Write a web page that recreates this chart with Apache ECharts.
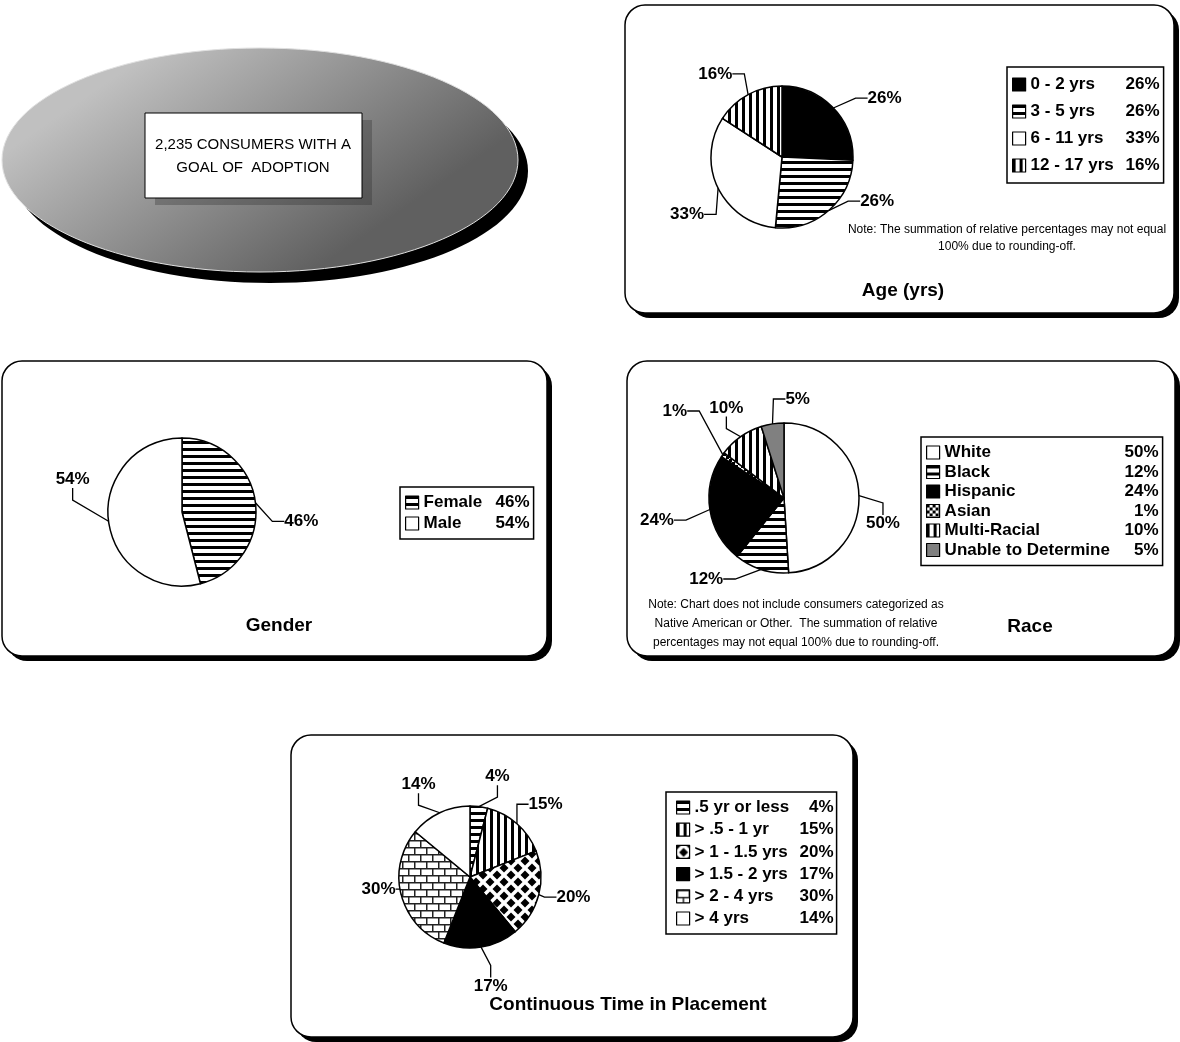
<!DOCTYPE html>
<html><head><meta charset="utf-8">
<script src="https://cdn.jsdelivr.net/npm/echarts@6/dist/echarts.min.js"></script>
<style>html,body{margin:0;padding:0;background:#fff}#c{width:1180px;height:1042px}</style>
</head><body><div id="c"></div>
<script>
// ---- data ----
const ageCats = ['0 - 2 yrs', '3 - 5 yrs', '6 - 11 yrs', '12 - 17 yrs'];
const ageVals = [26, 26, 33, 16];
const genderCats = ['Female', 'Male'];
const genderVals = [46, 54];
const raceCats = ['White', 'Black', 'Hispanic', 'Asian', 'Multi-Racial', 'Unable to Determine'];
const raceVals = [50, 12, 24, 1, 10, 5];
const timeCats = ['.5 yr or less', '> .5 - 1 yr', '> 1 - 1.5 yrs', '> 1.5 - 2 yrs', '> 2 - 4 yrs', '> 4 yrs'];
const timeVals = [4, 15, 20, 17, 30, 14];
const headline = ['2,235 CONSUMERS WITH A', 'GOAL OF  ADOPTION'];
const ageNote = ['Note: The summation of relative percentages may not equal', '100% due to rounding-off.'];
const raceNote = ['Note: Chart does not include consumers categorized as', 'Native American or Other.  The summation of relative', 'percentages may not equal 100% due to rounding-off.'];

// ---- patterns ----
function tile(w, h, draw) {
  const c = document.createElement('canvas'); c.width = w; c.height = h;
  const g = c.getContext('2d'); g.fillStyle = '#fff'; g.fillRect(0, 0, w, h);
  g.fillStyle = '#000'; g.strokeStyle = '#000'; draw(g);
  return { image: c, repeat: 'repeat' };
}
const hstripe = tile(8, 7, g => g.fillRect(0, 0, 8, 3));
const vstripe = tile(7, 8, g => g.fillRect(0, 0, 3, 8));
const diamond = tile(14, 14, g => {
  [[7, 7], [0, 0], [14, 0], [0, 14], [14, 14]].forEach(([x, y]) => {
    g.beginPath(); g.moveTo(x, y - 4.5); g.lineTo(x + 4.5, y); g.lineTo(x, y + 4.5); g.lineTo(x - 4.5, y); g.closePath(); g.fill();
  });
});
const brick = tile(12, 14, g => {
  g.fillStyle = '#222';
  g.fillRect(0, 0, 12, 1.5); g.fillRect(0, 7, 12, 1.5); g.fillRect(0, 0, 1.5, 7); g.fillRect(6, 7, 1.5, 7);
});
const weave = tile(6, 6, g => { g.fillRect(0, 0, 3, 3); g.fillRect(3, 3, 3, 3); });

const ageFill = ['#000', hstripe, '#fff', vstripe];
const genderFill = [hstripe, '#fff'];
const raceFill = ['#fff', hstripe, '#000', weave, vstripe, '#808080'];
const timeFill = [hstripe, vstripe, diamond, '#000', brick, '#fff'];

const F = "'Liberation Sans Narrow','Arial Narrow',Arial,sans-serif";
const bold = { fontFamily: F, fontWeight: 'bold', fontSize: 17, color: '#000' };

function pie(cats, vals, fills, center, radius, nudge) {
  return {
    type: 'pie', center, radius, startAngle: 90, clockwise: true, animation: false, silent: true,
    avoidLabelOverlap: true, z: 5,
    data: cats.map((n, i) => ({ name: n, value: vals[i], itemStyle: { color: fills[i] } })),
    itemStyle: { borderColor: '#000', borderWidth: 1.5 },
    label: Object.assign({ show: true, position: 'outside', formatter: '{c}%' }, bold),
    labelLine: { show: true, length: 10, length2: 12, lineStyle: { color: '#000', width: 1.3 } },
    labelLayout: p => ({
      x: p.labelRect.x + nudge[p.dataIndex][0],
      y: p.labelRect.y + nudge[p.dataIndex][1],
      align: 'left', verticalAlign: 'top'
    })
  };
}

function legend(cats, vals, left, top, nW, pW, gap, pad) {
  return {
    data: cats, left, top, orient: 'vertical', selectedMode: false, icon: 'rect',
    itemWidth: 13, itemHeight: 13, itemGap: gap, padding: pad,
    borderColor: '#000', borderWidth: 1.5, backgroundColor: '#fff', z: 6,
    itemStyle: { borderColor: '#000', borderWidth: 1.2 },
    formatter: name => '{n|' + name + '}{p|' + vals[cats.indexOf(name)] + '%}',
    textStyle: Object.assign({}, bold, {
      rich: {
        n: Object.assign({}, bold, { width: nW, lineHeight: 17 }),
        p: Object.assign({}, bold, { width: pW, align: 'right', lineHeight: 17 })
      }
    })
  };
}

function panel(x, y, w, h) {
  return [
    { type: 'rect', z: 0, shape: { x: x + 5, y: y + 5, width: w, height: h, r: 20 }, style: { fill: '#000' } },
    { type: 'rect', z: 1, shape: { x, y, width: w, height: h, r: 20 }, style: { fill: '#fff', stroke: '#000', lineWidth: 1.5 } }
  ];
}
function txt(s, x, y, font) {
  return { type: 'text', z: 7, style: { text: s, x, y, font, fill: '#000', textAlign: 'center', textVerticalAlign: 'middle' } };
}
const titleFont = "bold 19px " + F;
const noteFont = "12px " + F;

const graphics = [].concat(
  [
    { type: 'ellipse', z: 0, shape: { cx: 270, cy: 171, rx: 258, ry: 112 }, style: { fill: '#000' } },
    { type: 'ellipse', z: 1, shape: { cx: 260, cy: 160, rx: 258, ry: 112 },
      style: { stroke: '#e0e0e0', lineWidth: 1,
        fill: new echarts.graphic.LinearGradient(0.3, 0, 0.6, 1, [{ offset: 0, color: '#c0c0c0' }, { offset: 1, color: '#606060' }]) } },
    { type: 'rect', z: 2, shape: { x: 155, y: 120, width: 217, height: 85 }, style: { fill: 'rgba(40,40,40,0.3)' } },
    { type: 'rect', z: 3, shape: { x: 145, y: 113, width: 217, height: 85 }, style: { fill: '#fff', stroke: '#000', lineWidth: 1 } },
    txt(headline[0], 253, 145, "15px " + F),
    txt(headline[1], 253, 168, "15px " + F)
  ],
  panel(625, 5, 549, 308),
  panel(2, 361, 545, 295),
  panel(627, 361, 548, 295),
  panel(291, 735, 562, 302),
  [
    txt('Age (yrs)', 903, 291, titleFont),
    txt('Gender', 279, 626, titleFont),
    txt('Race', 1030, 627, titleFont),
    txt('Continuous Time in Placement', 628, 1005, titleFont),
    txt(ageNote[0], 1007, 230, noteFont),
    txt(ageNote[1], 1007, 247, noteFont),
    txt(raceNote[0], 796, 605, noteFont),
    txt(raceNote[1], 796, 624, noteFont),
    txt(raceNote[2], 796, 643, noteFont)
  ]
);

const chart = echarts.init(document.getElementById('c'), null, { renderer: 'canvas' });
chart.setOption({
  animation: false,
  backgroundColor: '#fff',
  graphic: { elements: graphics },
  legend: [
    legend(ageCats, ageVals, 1007, 67, 92, 37, 10, [9, 4, 9, 5]),
    legend(genderCats, genderVals, 400, 487, 62, 44, 4, [7, 4, 7, 5]),
    legend(raceCats, raceVals, 921, 437, 174, 40, 2.5, [7, 4, 7, 5]),
    legend(timeCats, timeVals, 666, 792, 100, 39, 5.2, [7, 3, 7, 10])
  ],
  series: [
    pie(ageCats, ageVals, ageFill, [782, 157], 71, [[10, -3], [8, -17], [12, 22], [6, -12]]),
    pie(genderCats, genderVals, genderFill, [182, 512], 74, [[2, 20], [8, -43]]),
    pie(raceCats, raceVals, raceFill, [784, 498], 75, [[-20, 28], [-18, 0], [-14, 9], [-13, -41], [27, -25], [56, -15]]),
    pie(timeCats, timeVals, timeFill, [470, 877], 71, [[-12, -20], [-12, -12], [-9, 0], [-26, 29], [21, -8], [17, -19]])
  ]
});
</script></body></html>
